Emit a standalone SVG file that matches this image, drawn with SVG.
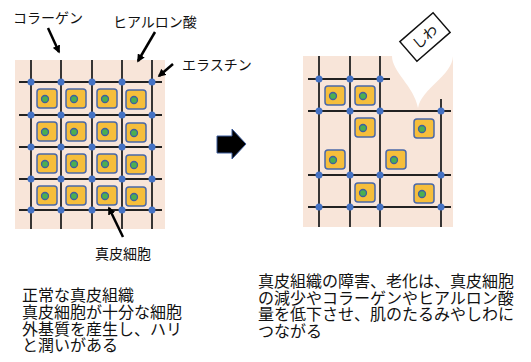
<svg xmlns="http://www.w3.org/2000/svg" width="531" height="362" viewBox="0 0 531 362">
  <style>
    .bg { fill: #F8E5D9; }
    .fiber { stroke: #222; stroke-width: 1.8; fill: none; }
    .node { fill: #4472C4; }
    .cell { fill: #F6BE3B; stroke: #4A68A8; stroke-width: 1.5; }
    .nuc { fill: #4CAF50; stroke: #3F5FA0; stroke-width: 1.3; }
    .lbl { font-family: "Noto Sans CJK JP", "Noto Sans", sans-serif; fill: #111; }
    .ptr { stroke: #000; stroke-width: 2.5; fill: none; marker-end: url(#head); }
  </style>
  <defs>
    <marker id="head" viewBox="0 0 10 10" refX="8" refY="5" markerWidth="3.2" markerHeight="3.2" orient="auto">
      <path d="M0,0 L10,5 L0,10 Z" fill="#000"/>
    </marker>
    <g id="c">
      <rect class="cell" x="0" y="0" width="20" height="19" rx="3"/>
      <circle class="nuc" cx="8" cy="10" r="3.5"/>
    </g>
  </defs>

  <rect width="531" height="362" fill="#fff"/>

  <!-- healthy dermis -->
  <g id="healthy-dermis">
    <rect class="bg" x="15" y="60" width="150" height="169"/>
    <path class="fiber" d="M31,60V229M61,60V229M92,60V229M122,60V229M152,60V229
      M19,82H162M19,115H162M19,147H162M19,179H162M19,210H162"/>
    <g id="healthy-cells">
      <use href="#c" x="37" y="89"/><use href="#c" x="66" y="89"/><use href="#c" x="97" y="89"/><use href="#c" x="126" y="90"/>
      <use href="#c" x="37" y="122"/><use href="#c" x="66" y="122"/><use href="#c" x="97" y="122"/><use href="#c" x="126" y="123"/>
      <use href="#c" x="37" y="154"/><use href="#c" x="66" y="154"/><use href="#c" x="97" y="154"/><use href="#c" x="126" y="155"/>
      <use href="#c" x="37" y="186"/><use href="#c" x="66" y="186"/><use href="#c" x="97" y="186"/><use href="#c" x="126" y="187"/>
    </g>
    <g id="healthy-elastin">
      <circle class="node" cx="31" cy="82" r="3.5"/><circle class="node" cx="61" cy="82" r="3.5"/><circle class="node" cx="92" cy="82" r="3.5"/><circle class="node" cx="122" cy="82" r="3.5"/><circle class="node" cx="152" cy="82" r="3.5"/>
      <circle class="node" cx="31" cy="115" r="3.5"/><circle class="node" cx="61" cy="115" r="3.5"/><circle class="node" cx="92" cy="115" r="3.5"/><circle class="node" cx="122" cy="115" r="3.5"/><circle class="node" cx="152" cy="115" r="3.5"/>
      <circle class="node" cx="31" cy="147" r="3.5"/><circle class="node" cx="61" cy="147" r="3.5"/><circle class="node" cx="92" cy="147" r="3.5"/><circle class="node" cx="122" cy="147" r="3.5"/><circle class="node" cx="152" cy="147" r="3.5"/>
      <circle class="node" cx="31" cy="179" r="3.5"/><circle class="node" cx="61" cy="179" r="3.5"/><circle class="node" cx="92" cy="179" r="3.5"/><circle class="node" cx="122" cy="179" r="3.5"/><circle class="node" cx="152" cy="179" r="3.5"/>
      <circle class="node" cx="31" cy="210" r="3.5"/><circle class="node" cx="61" cy="210" r="3.5"/><circle class="node" cx="92" cy="210" r="3.5"/><circle class="node" cx="122" cy="210" r="3.5"/><circle class="node" cx="152" cy="210" r="3.5"/>
    </g>
  </g>

  <!-- aged dermis -->
  <g id="aged-dermis">
    <rect class="bg" x="303" y="56" width="150" height="171"/>
    <path d="M392,56 C392,72 414,86 418,108 C422,88 452,76 453,56 Z" fill="#fff"/>
    <path class="fiber" d="M319,56V227M350,56V227M380,56V227M441,99V227
      M308,79H390M308,111H451M308,175H451M308,207H451"/>
    <g id="aged-cells">
      <use href="#c" x="325" y="86"/><use href="#c" x="355" y="86"/>
      <use href="#c" x="355" y="118"/><use href="#c" x="414" y="119"/>
      <use href="#c" x="325" y="150"/><use href="#c" x="386" y="150"/>
      <use href="#c" x="355" y="183"/><use href="#c" x="414" y="184"/>
    </g>
    <g id="aged-elastin">
      <circle class="node" cx="319" cy="79" r="3.5"/><circle class="node" cx="350" cy="79" r="3.5"/><circle class="node" cx="380" cy="79" r="3.5"/>
      <circle class="node" cx="319" cy="111" r="3.5"/><circle class="node" cx="350" cy="111" r="3.5"/><circle class="node" cx="380" cy="111" r="3.5"/><circle class="node" cx="441" cy="111" r="3.5"/>
      <circle class="node" cx="319" cy="175" r="3.5"/><circle class="node" cx="350" cy="175" r="3.5"/><circle class="node" cx="380" cy="175" r="3.5"/><circle class="node" cx="441" cy="175" r="3.5"/>
      <circle class="node" cx="319" cy="207" r="3.5"/><circle class="node" cx="350" cy="207" r="3.5"/><circle class="node" cx="380" cy="207" r="3.5"/><circle class="node" cx="441" cy="207" r="3.5"/>
    </g>
  </g>

  <!-- wrinkle tag -->
  <g id="wrinkle-tag" transform="translate(425,37) rotate(-41)">
    <rect x="-22" y="-13" width="44" height="26" fill="#fff" stroke="#111" stroke-width="1.5"/>
    <text class="lbl" x="0" y="5" font-size="14" text-anchor="middle">しわ</text>
  </g>

  <!-- transition arrow -->
  <g id="transition-arrow">
    <polygon points="217,136 232,136 232,129 246,144 232,159 232,153 217,153" fill="#000" stroke="#3A5A9A" stroke-width="1"/>
  </g>

  <!-- labels -->
  <g id="label-collagen"><text class="lbl" x="13" y="23" font-size="14">コラーゲン</text></g>
  <g id="label-hyaluronic"><text class="lbl" x="113" y="27" font-size="14">ヒアルロン酸</text></g>
  <g id="label-elastin"><text class="lbl" x="182" y="70" font-size="14">エラスチン</text></g>
  <g id="label-fibroblast"><text class="lbl" x="95" y="259" font-size="14">真皮細胞</text></g>

  <!-- pointer lines -->
  <g id="connectors">
    <line class="ptr" x1="48" y1="28" x2="59" y2="52"/>
    <line class="ptr" x1="155" y1="32" x2="138" y2="61"/>
    <line class="ptr" x1="173" y1="64" x2="159" y2="76"/>
    <line class="ptr" x1="123" y1="237" x2="109" y2="208"/>
  </g>

  <!-- captions -->
  <g id="caption-healthy">
    <text class="lbl" font-size="16">
      <tspan x="22" y="301">正常な真皮組織</tspan>
      <tspan x="22" y="318">真皮細胞が十分な細胞</tspan>
      <tspan x="22" y="334.5">外基質を産生し、ハリ</tspan>
      <tspan x="22" y="351">と潤いがある</tspan>
    </text>
  </g>
  <g id="caption-aged">
    <text class="lbl" font-size="16">
      <tspan x="258" y="287">真皮組織の障害、老化は、真皮細胞</tspan>
      <tspan x="258" y="303.5">の減少やコラーゲンやヒアルロン酸</tspan>
      <tspan x="258" y="320">量を低下させ、肌のたるみやしわに</tspan>
      <tspan x="258" y="336.5">つながる</tspan>
    </text>
  </g>
</svg>
